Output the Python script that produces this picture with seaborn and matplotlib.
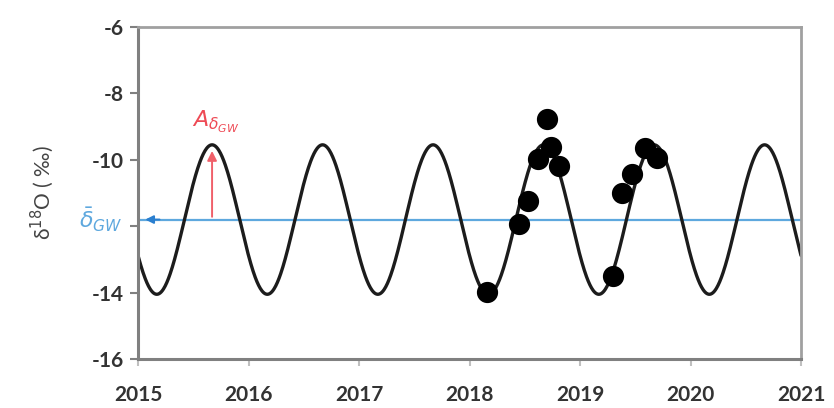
import matplotlib
matplotlib.use('Agg')
import numpy as np
import pandas as pd
import matplotlib.pyplot as plt
import seaborn as sns

# Observed groundwater samples (decimal year, d18O permil)
obs_year = [2018.16, 2018.45, 2018.53, 2018.62, 2018.70, 2018.74, 2018.81,
            2019.30, 2019.38, 2019.47, 2019.59, 2019.70]
obs_d18o = [-13.97, -11.93, -11.23, -9.98, -8.78, -9.61, -10.18,
            -13.50, -11.01, -10.44, -9.64, -9.94]

# Seasonal sine model: mean, amplitude, peak phase (fraction of year)
mean_gw = -11.8
amp_gw = 2.25
peak_phase = 0.67

x_ticks = [2015, 2016, 2017, 2018, 2019, 2020, 2021]
y_ticks = [-16, -14, -12, -10, -8, -6]
y_labels = ['-16', '-14', '', '-10', '-8', '-6']   # -12 hidden behind the mean label

# model curve
t = np.linspace(2015, 2021, 1200)
model = pd.DataFrame({'year': t,
                      'd18o': mean_gw + amp_gw * np.cos(2 * np.pi * (t - 2015 - peak_phase))})
obs = pd.DataFrame({'year': obs_year, 'd18o': obs_d18o})

sns.set_style('white')
plt.rcParams['font.family'] = ['Lato', 'DejaVu Sans']
plt.rcParams['mathtext.fontset'] = 'dejavusans'

fig = plt.figure(figsize=(8.34, 4.08), dpi=100)
ax = fig.add_axes([0.1655, 0.12, 0.795, 0.814])

ax.axhline(mean_gw, color='#5ea8de', lw=1.6, zorder=1)
sns.lineplot(data=model, x='year', y='d18o', ax=ax, color='#1c1c1c', lw=2.4, zorder=2)
sns.scatterplot(data=obs, x='year', y='d18o', ax=ax, color='black', s=200,
                edgecolor='black', zorder=3)

# amplitude arrow
peak_x = 2015 + peak_phase
ax.annotate('', xy=(peak_x, mean_gw + amp_gw - 0.1), xytext=(peak_x, mean_gw),
            arrowprops=dict(arrowstyle='-|>', color='#f0606a', lw=1.4, mutation_scale=14))
ax.text(peak_x + 0.03, mean_gw + amp_gw + 0.3, r'$A_{\delta_{GW}}$', color='#ee4a55',
        fontsize=16, ha='center', va='bottom')

# mean arrow and label
ax.annotate('', xy=(2015.04, mean_gw), xytext=(2015.22, mean_gw),
            arrowprops=dict(arrowstyle='-|>', color='#2a7fcf', lw=1.4, mutation_scale=12))
ax.text(2014.86, mean_gw, r'$\bar{\delta}_{GW}$', color='#5ea8de', fontsize=16,
        ha='right', va='center', clip_on=False)

ax.set_xlim(2015, 2021)
ax.set_ylim(-16, -6)
ax.set_xticks(x_ticks)
ax.set_yticks(y_ticks)
ax.set_xticklabels([str(v) for v in x_ticks], fontsize=15, color='#333333', fontweight='bold')
ax.set_yticklabels(y_labels, fontsize=15, color='#333333', fontweight='bold')
ax.set_xlabel('')
ax.set_ylabel('δ$^{18}$O ( ‰)', fontsize=15, color='#444444', labelpad=26)

for side in ['left', 'bottom']:
    ax.spines[side].set_color('#808080')
    ax.spines[side].set_linewidth(2.2)
for side in ['top', 'right']:
    ax.spines[side].set_color('#a0a0a0')
    ax.spines[side].set_linewidth(2.0)
ax.tick_params(axis='y', left=True, length=6, width=1.5, color='#808080', pad=4)
ax.tick_params(axis='x', bottom=True, length=5, width=1.5, color='#c0c0c0', pad=14)

plt.savefig('out.png', dpi=100)
plt.close()
